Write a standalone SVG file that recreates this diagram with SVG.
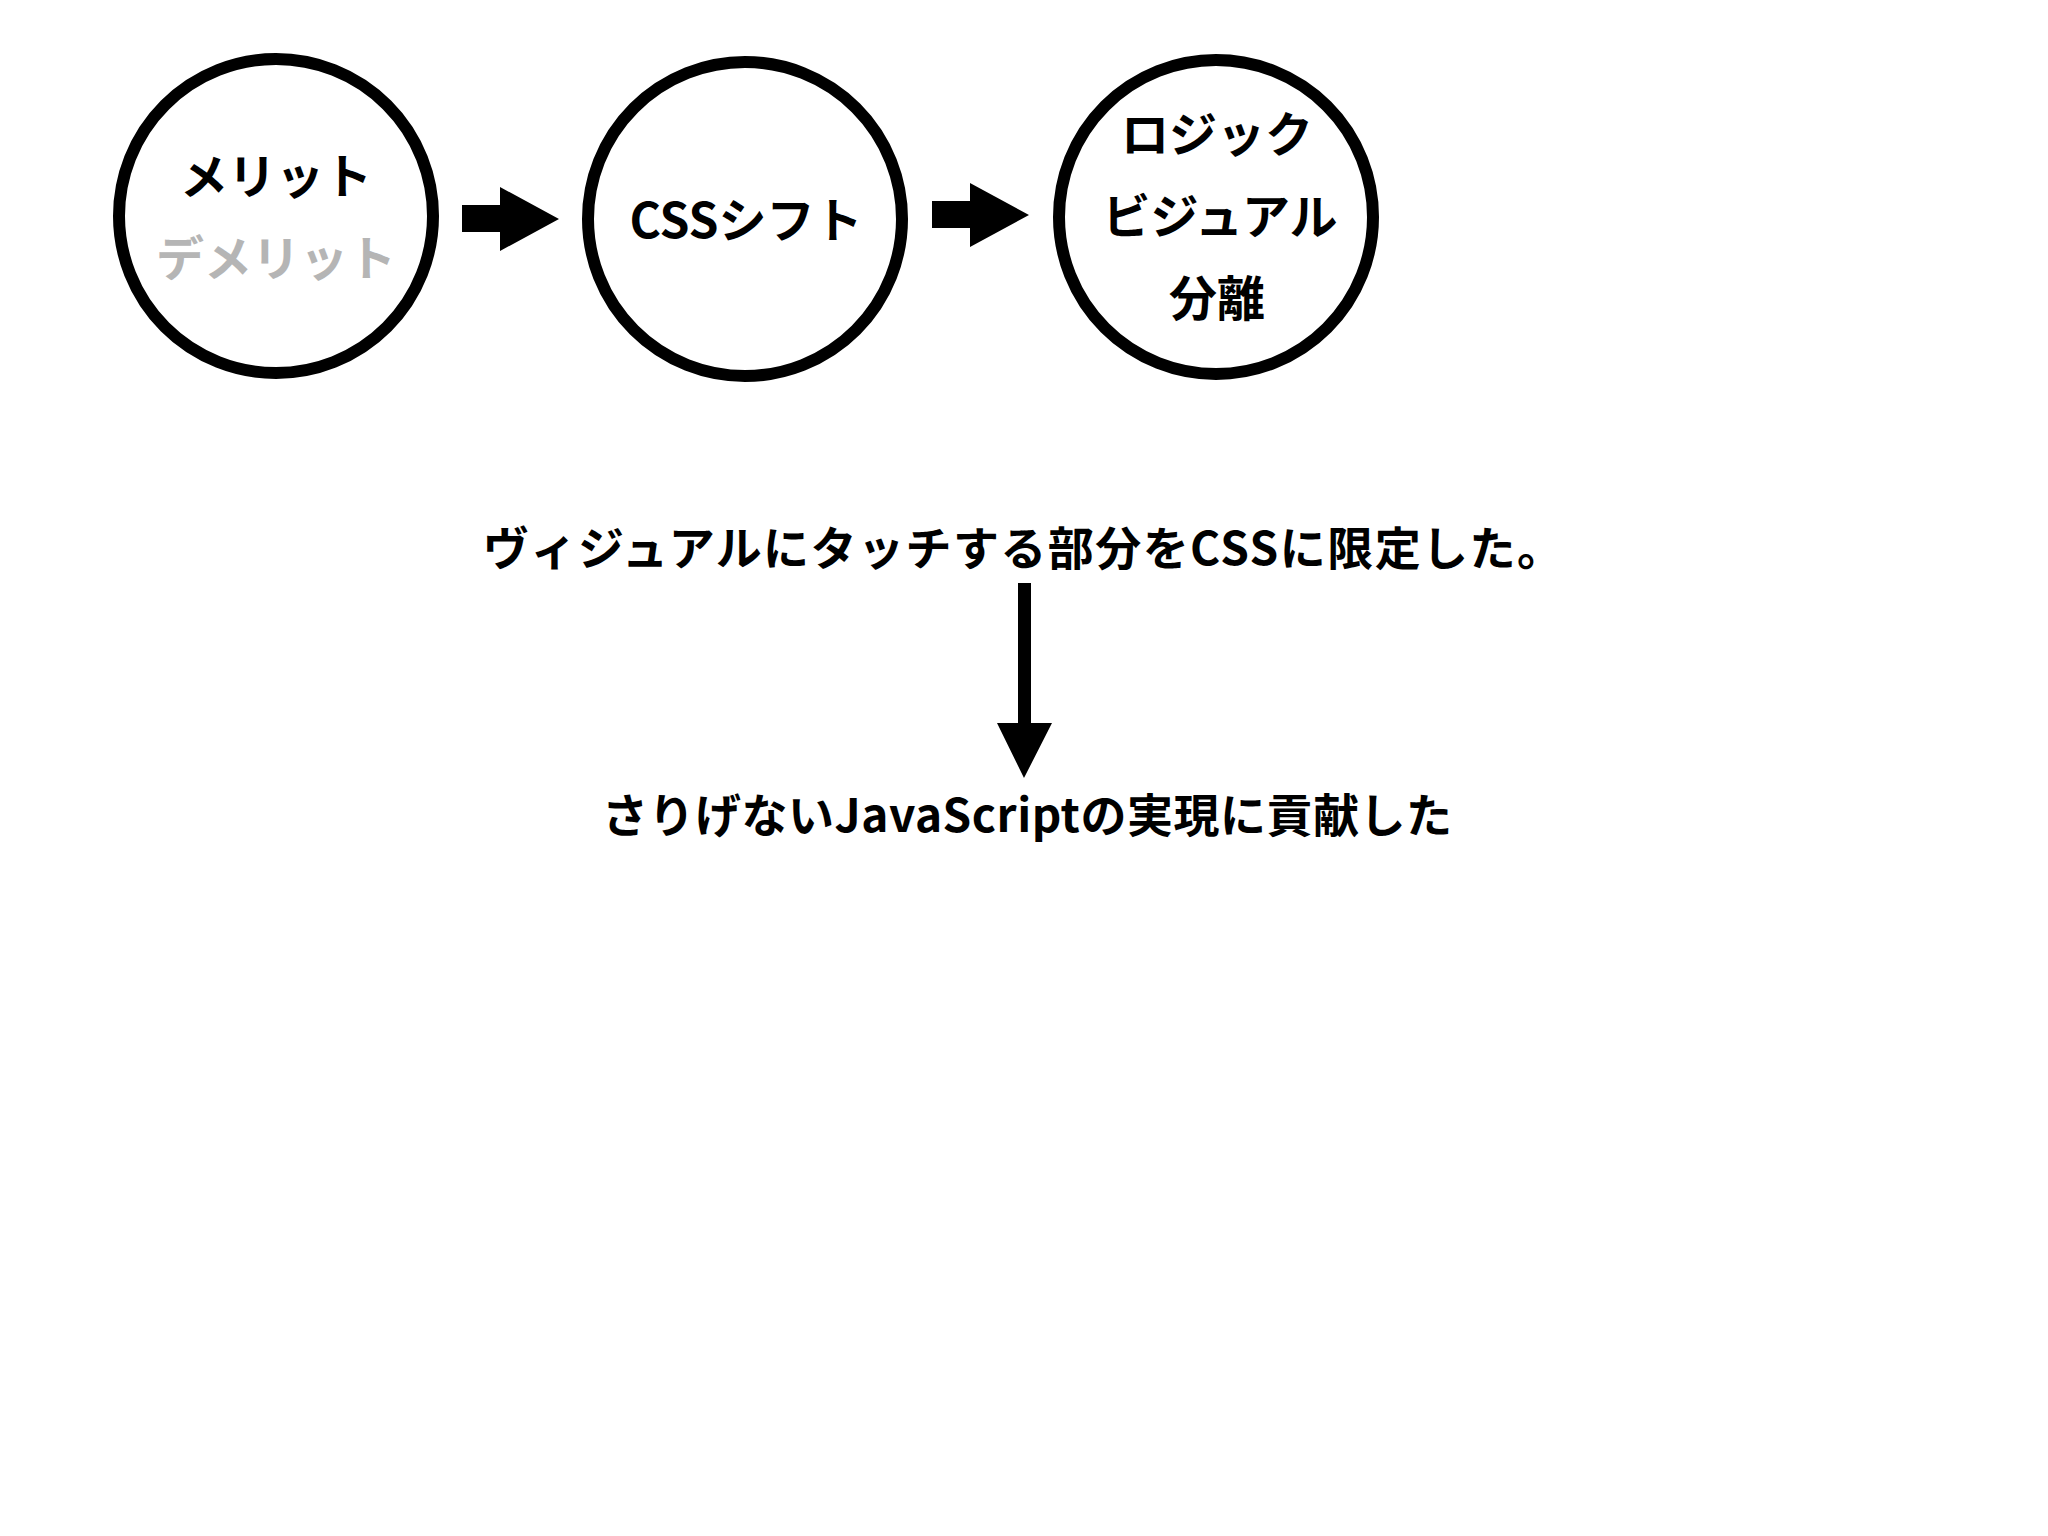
<svg xmlns="http://www.w3.org/2000/svg" width="2048" height="1536" viewBox="0 0 2048 1536">
  <style>
    .node circle { fill: #ffffff; stroke: #000000; stroke-width: 12; }
    text { font-family: "Noto Sans CJK JP", "Noto Sans", sans-serif; font-weight: 700; text-anchor: middle; fill: #000000; }
    .lbl { font-size: 48px; }
    .big { font-size: 46px; text-anchor: start; }
    .gray { fill: #b5b5b5; }
    .arrow { fill: #000000; stroke: none; }
  </style>
  <rect width="2048" height="1536" fill="#ffffff"/>
  <g id="node-merit" class="node">
    <circle cx="276" cy="216" r="157"/>
    <text class="lbl" x="276" y="194">メリット</text>
    <text class="lbl gray" x="276" y="276">デメリット</text>
  </g>
  <g id="node-css-shift" class="node">
    <circle cx="745" cy="219" r="157"/>
    <text class="lbl" x="746" y="238">CSSシフト</text>
  </g>
  <g id="node-separation" class="node">
    <circle cx="1216" cy="217" r="157"/>
    <text class="lbl" x="1217" y="152">ロジック</text>
    <text class="lbl" x="1220" y="234">ビジュアル</text>
    <text class="lbl" x="1217" y="316">分離</text>
  </g>
  <g id="text-visual">
    <text class="big" x="483" y="565" textLength="1080" lengthAdjust="spacing">ヴィジュアルにタッチする部分をCSSに限定した。</text>
  </g>
  <g id="text-js">
    <text class="big" x="602" y="832" textLength="850" lengthAdjust="spacing">さりげないJavaScriptの実現に貢献した</text>
  </g>
  <g id="connectors" class="arrow">
    <path d="M462,205 H500 V187 L559,219 L500,251 V232 H462 Z"/>
    <path d="M932,201 H970 V183 L1029,215 L970,247 V228 H932 Z"/>
    <path d="M1018,583 H1031 V723 H1052 L1024,778 L997,723 H1018 Z"/>
  </g>
</svg>
